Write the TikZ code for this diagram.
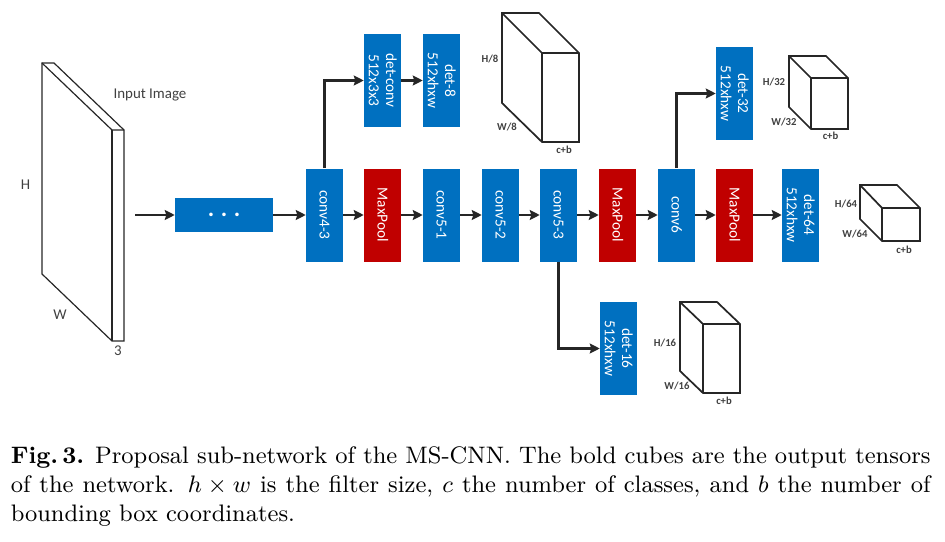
\documentclass[tikz,border=0pt]{standalone}
\usepackage{fontspec}
\usepackage{graphicx}
\usetikzlibrary{arrows.meta}
\newfontfamily\carlito{Carlito}
\newcommand\vtxt[1]{\hspace*{-1.1pt}\rotatebox{-90}{\begin{tabular}{@{}c@{}}#1\end{tabular}}\hspace*{1.1pt}}
\definecolor{netblue}{HTML}{0070C0}
\definecolor{netred}{HTML}{C00000}
\definecolor{inkgray}{HTML}{404040}
\definecolor{linegray}{HTML}{262626}
\tikzset{
  x=0.75pt,y=-0.75pt,
  layerbox/.style={inner sep=0pt,minimum width=27.75pt,minimum height=69.75pt,text=white,
    font=\carlito\fontsize{11.5}{13}\selectfont},
  convbox/.style={layerbox,fill=netblue},
  poolbox/.style={layerbox,fill=netred},
  flow/.style={line width=1.9pt,draw=linegray,-{Stealth[length=7.5pt,width=7.5pt,inset=1.2pt]}},
  cube/.style={line width=1.3pt,draw=linegray,line join=miter},
  slab/.style={line width=0.9pt,draw=linegray},
  dimlabel/.style={font=\carlito\bfseries\fontsize{8}{9}\selectfont,text=inkgray,inner sep=0pt},
  imglabel/.style={font=\carlito\fontsize{11.2}{13}\selectfont,text=inkgray,inner sep=0pt},
}
\begin{document}
\begin{tikzpicture}
\useasboundingbox (0,0) rectangle (945,542);
% input slab
\draw[slab] (42,63) -- (54,63) -- (124,130) -- (124,341) -- (112,341) -- (42,274) -- cycle;
\draw[slab] (42,63) -- (112,130) -- (124,130);
\draw[slab] (112,130) -- (112,341);
\node[imglabel] (inputlabel) at (150,95) {Input Image};
\node[imglabel] (hlabel) at (25.5,184.5) {H};
\node[imglabel] (wlabel) at (60,314.5) {W};
\node[imglabel] (threelabel) at (118,351) {3};
% boxes
\coordinate (start) at (135,215);
\node[fill=netblue,inner sep=0pt,minimum width=73.5pt,minimum height=25.5pt,text=white,font=\carlito\bfseries\fontsize{18}{18}\selectfont] (dots) at (224,215) {\makebox[9.75pt]{.}\makebox[9.75pt]{.}\makebox[9.75pt]{.}};
\node[convbox] (conv43) at (324.5,215) {\vtxt{conv4-3}};
\node[poolbox] (pool1) at (382.5,215) {\vtxt{MaxPool}};
\node[convbox] (conv51) at (441.5,215) {\vtxt{conv5-1}};
\node[convbox] (conv52) at (500.5,215) {\vtxt{conv5-2}};
\node[convbox] (conv53) at (558.5,215) {\vtxt{conv5-3}};
\node[poolbox] (pool2) at (617.5,215) {\vtxt{MaxPool}};
\node[convbox] (conv6) at (676.5,215) {\vtxt{conv6}};
\node[poolbox] (pool3) at (734.5,215) {\vtxt{MaxPool}};
\node[convbox] (det64) at (800.5,215) {\vtxt{det-64\\512xhxw}};
\node[convbox] (detconv) at (382.5,80.5) {\vtxt{det-conv\\512x3x3}};
\node[convbox] (det8) at (441.5,80.5) {\vtxt{det-8\\512xhxw}};
\node[convbox] (det32) at (734.5,93.5) {\vtxt{det-32\\512xhxw}};
\node[convbox] (det16) at (618.5,348.5) {\vtxt{det-16\\512xhxw}};
% arrows
\draw[flow] (start) -- (dots.west);
\draw[flow] (dots.east) -- (conv43.west);
\draw[flow] (conv43.east) -- (pool1.west);
\draw[flow] (pool1.east) -- (conv51.west);
\draw[flow] (conv51.east) -- (conv52.west);
\draw[flow] (conv52.east) -- (conv53.west);
\draw[flow] (conv53.east) -- (pool2.west);
\draw[flow] (pool2.east) -- (conv6.west);
\draw[flow] (conv6.east) -- (pool3.west);
\draw[flow] (pool3.east) -- (det64.west);
\draw[flow] (conv43.north) |- (detconv.west);
\draw[flow] (detconv.east) -- (det8.west);
\draw[flow] (conv6.north) |- (det32.west);
\draw[flow] (conv53.south) |- (det16.west);
% det-8 cube
\draw[cube] (502,13) -- (539,13) -- (579,53) -- (579,142) -- (542,142) -- (502,103) -- cycle;
\draw[cube] (502,13) -- (542,53) -- (579,53);
\draw[cube] (542,53) -- (542,142);
\node[dimlabel] (h8) at (490,59.5) {H/8};
\node[dimlabel] (w8) at (507,127) {W/8};
\node[dimlabel] (cb8) at (564,150) {c+b};
% det-32 cube
\draw[cube] (789,56) -- (826,56) -- (848,78) -- (848,129) -- (811,129) -- (789,107) -- cycle;
\draw[cube] (789,56) -- (811,78) -- (848,78);
\draw[cube] (811,78) -- (811,129);
\node[dimlabel] (h32) at (774,82) {H/32};
\node[dimlabel] (w32) at (784,121.5) {W/32};
\node[dimlabel] (cb32) at (830.5,136) {c+b};
% det-64 cube
\draw[cube] (860,185) -- (897,185) -- (920,208) -- (920,241) -- (882,241) -- (860,219) -- cycle;
\draw[cube] (860,185) -- (882,208) -- (920,208);
\draw[cube] (882,208) -- (882,241);
\node[dimlabel] (h64) at (846,204) {H/64};
\node[dimlabel] (w64) at (855,233.5) {W/64};
\node[dimlabel] (cb64) at (904,250) {c+b};
% det-16 cube
\draw[cube] (680,302) -- (717,302) -- (740,324) -- (740,393) -- (703,393) -- (680,371) -- cycle;
\draw[cube] (680,302) -- (703,324) -- (740,324);
\draw[cube] (703,324) -- (703,393);
\node[dimlabel] (h16) at (665,342.5) {H/16};
\node[dimlabel] (w16) at (677,386) {W/16};
\node[dimlabel] (cb16) at (724,401) {c+b};
% caption
\node[anchor=north west,inner sep=0pt] (caption) at (10.5,446.5)
  {\scalebox{1.988}{\parbox[t]{347pt}{\fontsize{9}{11}\selectfont
  \textbf{Fig.\,3.} Proposal sub-network of the MS-CNN. The bold cubes are the output tensors of the network. $h\times w$ is the filter size, $c$ the number of classes, and $b$ the number of bounding box coordinates.}}};
\end{tikzpicture}
\end{document}
